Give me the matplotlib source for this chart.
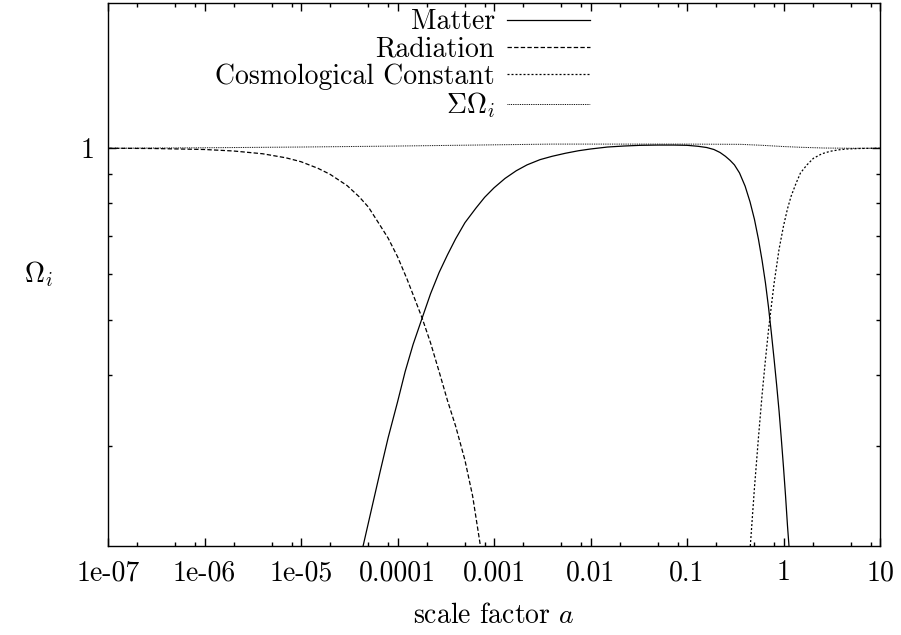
import matplotlib
matplotlib.use('Agg')
import matplotlib.pyplot as plt
import matplotlib.ticker as mticker

# density parameters, Omega_i(a)
rad_a     = [1e-7, 3e-7, 1e-6, 2e-6, 4e-6, 7e-6, 1e-5, 1.5e-5, 2e-5, 3e-5, 4e-5, 5e-5, 6.5e-5,
             8e-5, 1e-4, 1.25e-4, 1.5e-4, 1.8e-4, 2.2e-4, 2.7e-4, 3.3e-4, 4e-4, 5e-4, 6e-4, 7.2e-4]
rad_omega = [1.0, 0.999, 0.995, 0.989, 0.978, 0.962, 0.947, 0.922, 0.900, 0.860, 0.822, 0.788, 0.735,
             0.695, 0.645, 0.590, 0.545, 0.503, 0.455, 0.405, 0.360, 0.325, 0.283, 0.245, 0.201]

mat_a     = [4.4e-5, 5.5e-5, 6.6e-5, 8e-5, 1e-4, 1.2e-4, 1.45e-4, 1.8e-4, 2.2e-4, 2.7e-4, 3.3e-4,
             4e-4, 5e-4, 6.5e-4, 8e-4, 1e-3, 1.3e-3, 1.7e-3, 2.2e-3, 3e-3, 4e-3, 5.5e-3, 7.5e-3,
             1e-2, 1.5e-2, 2.2e-2, 3.3e-2, 5e-2, 7.3e-2, 0.1, 0.13, 0.16, 0.19, 0.22, 0.25, 0.28,
             0.31, 0.35, 0.4, 0.45, 0.5, 0.55, 0.6, 0.65, 0.7, 0.75, 0.8, 0.85, 0.9, 0.95, 1.0,
             1.05, 1.1, 1.14]
mat_omega = [0.2, 0.236, 0.27, 0.31, 0.358, 0.405, 0.452, 0.503, 0.555, 0.605, 0.650,
             0.693, 0.74, 0.785, 0.82, 0.852, 0.885, 0.913, 0.935, 0.955, 0.968, 0.980, 0.990,
             0.997, 1.005, 1.009, 1.012, 1.013, 1.013, 1.012, 1.008, 1.003, 0.995, 0.983, 0.968, 0.952,
             0.935, 0.905, 0.858, 0.805, 0.75, 0.692, 0.635, 0.58, 0.525, 0.472, 0.425, 0.383, 0.345, 0.308, 0.275,
             0.245, 0.217, 0.2]

lam_a     = [0.453, 0.5, 0.55, 0.6, 0.65, 0.7, 0.75, 0.8, 0.9, 1.0, 1.1, 1.2, 1.35, 1.5, 1.75,
             2.04, 2.5, 3.06, 3.8, 4.56, 6, 8.5, 10]
lam_omega = [0.2, 0.253, 0.31, 0.369, 0.425, 0.48, 0.53, 0.58, 0.665, 0.73, 0.783, 0.824, 0.868, 0.905, 0.935,
             0.96, 0.978, 0.988, 0.994, 0.997, 0.999, 1.0, 1.0]

sum_a     = [1e-7, 1e-6, 1e-5, 1e-4, 1e-3, 4e-3, 0.1, 0.36, 0.6, 1.0, 1.5, 2.6, 5, 10]
sum_omega = [1.0, 1.002, 1.005, 1.009, 1.014, 1.017, 1.017, 1.016, 1.012, 1.007, 1.004, 1.001, 1.0, 1.0]

xticks      = [1e-7, 1e-6, 1e-5, 1e-4, 1e-3, 1e-2, 1e-1, 1, 10]
xticklabels = ['1e-07', '1e-06', '1e-05', '0.0001', '0.001', '0.01', '0.1', '1', '10']

plt.rcParams['font.family'] = 'serif'
plt.rcParams['font.serif'] = ['cmr10']
plt.rcParams['mathtext.fontset'] = 'cm'
plt.rcParams['axes.unicode_minus'] = False
plt.rcParams['axes.formatter.use_mathtext'] = True

fig = plt.figure(figsize=(9.01, 6.35), dpi=100)
ax = fig.add_axes([108/901, 1-546/635, (880-108)/901, (546-3)/635])

lw = 0.9
ax.plot(mat_a, mat_omega, color='k', lw=lw, label='Matter')
ax.plot(rad_a, rad_omega, color='k', lw=lw, dashes=(3.5, 1.8), label='Radiation')
ax.plot(lam_a, lam_omega, color='k', lw=lw, dashes=(1.6, 1.6), label='Cosmological Constant')
ax.plot(sum_a, sum_omega, color='k', lw=lw*0.8, dashes=(0.9, 0.9), label=r'$\Sigma\Omega_i$')

ax.set_xscale('log')
ax.set_yscale('log')
ax.set_xlim(1e-7, 10)
ax.set_ylim(0.2, 1.8)

ax.xaxis.set_major_locator(mticker.FixedLocator(xticks))
ax.xaxis.set_major_formatter(mticker.FixedFormatter(xticklabels))
ax.xaxis.set_minor_locator(mticker.LogLocator(base=10, subs=[2, 5, 8], numticks=30))
ax.xaxis.set_minor_formatter(mticker.NullFormatter())
ax.yaxis.set_major_locator(mticker.FixedLocator([1]))
ax.yaxis.set_major_formatter(mticker.FixedFormatter(['1']))
ax.yaxis.set_minor_locator(mticker.FixedLocator([0.3, 0.4, 0.5, 0.6, 0.7, 0.8, 0.9]))
ax.yaxis.set_minor_formatter(mticker.NullFormatter())

ax.tick_params(which='both', direction='in', top=True, right=True, width=1.0, labelsize=20)
ax.tick_params(which='major', length=5.8, pad=10)
ax.tick_params(which='minor', length=2.9)
for s in ax.spines.values():
    s.set_linewidth(1.0)

ax.set_xlabel('scale factor $a$', fontsize=20, labelpad=12)
ax.set_ylabel(r'$\Omega_i$', fontsize=20, rotation=0, labelpad=30, va='center')

ax.legend(loc='upper right', bbox_to_anchor=(590/901, 1-9/635), bbox_transform=fig.transFigure,
          frameon=False, markerfirst=False, fontsize=20, handlelength=3.0, handletextpad=0.42,
          labelspacing=0.03, borderpad=0, borderaxespad=0)

fig.savefig('out.png', dpi=100)
